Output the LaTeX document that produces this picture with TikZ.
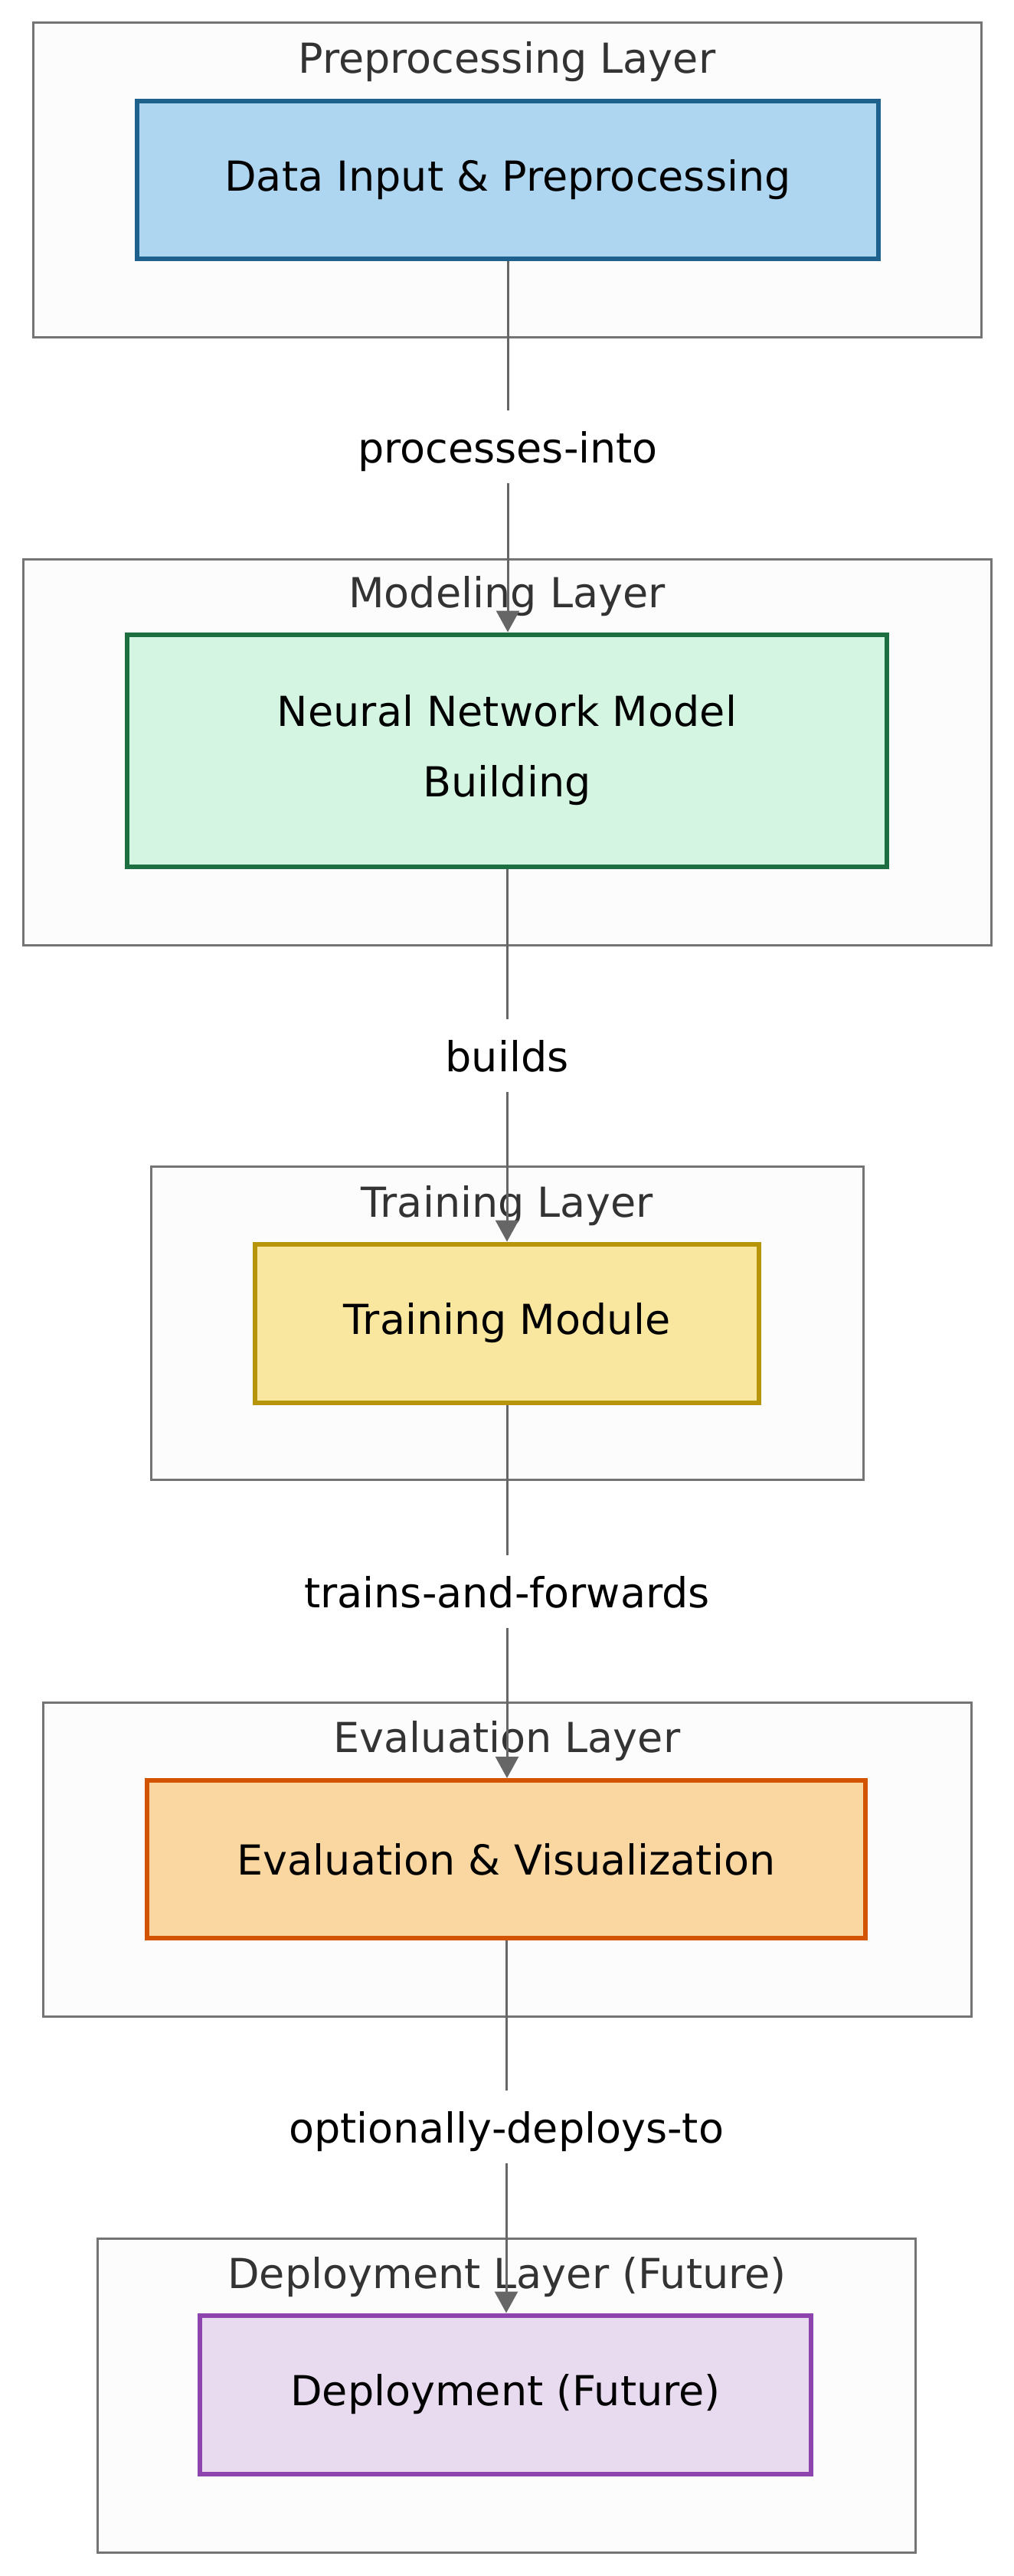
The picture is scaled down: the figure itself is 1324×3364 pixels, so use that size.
\documentclass[tikz,border=0pt]{standalone}
\usepackage{fontspec}
\setmainfont{DejaVu Sans}
\usetikzlibrary{arrows.meta}

\definecolor{layerfill}{HTML}{FCFCFC}
\definecolor{layerline}{HTML}{747474}
\definecolor{layertext}{HTML}{333333}
\definecolor{flowline}{HTML}{666666}
\definecolor{prepfill}{HTML}{AED6F1}  \definecolor{prepline}{HTML}{1F618D}
\definecolor{modfill}{HTML}{D5F5E3}   \definecolor{modline}{HTML}{1D6F42}
\definecolor{trainfill}{HTML}{F9E79F} \definecolor{trainline}{HTML}{B7950B}
\definecolor{evalfill}{HTML}{FAD7A0}  \definecolor{evalline}{HTML}{D35400}
\definecolor{depfill}{HTML}{E8DAEF}   \definecolor{depline}{HTML}{8E44AD}

\begin{document}
\begin{tikzpicture}[x=1pt, y=-1pt,
    layerbox/.style={draw=layerline, fill=layerfill, line width=3pt, inner sep=0pt},
    layertitle/.style={text=layertext, font=\fontsize{54}{66}\selectfont, inner sep=0pt},
    stagebox/.style={line width=6pt, inner sep=0pt, align=center, font=\fontsize{54}{92}\selectfont},
    flow/.style={draw=flowline, line width=3pt, -{Triangle[length=28pt, width=30pt]}},
    flowlabel/.style={fill=white, font=\fontsize{54}{66}\selectfont, text height=46pt, text depth=3pt, minimum height=95pt, inner xsep=4pt}
  ]
  \useasboundingbox (0,0) rectangle (1324,3364);
  \fill[white] (0,0) rectangle (1324,3364);

  % Layer frames
  \node[layerbox, minimum width=1238pt, minimum height=410pt] (prepLayer) at (662,235) {};
  \node[layerbox, minimum width=1264pt, minimum height=504pt] (modLayer) at (662,982) {};
  \node[layerbox, minimum width=930pt, minimum height=409pt] (trainLayer) at (662,1728) {};
  \node[layerbox, minimum width=1212pt, minimum height=410pt] (evalLayer) at (662,2428) {};
  \node[layerbox, minimum width=1068pt, minimum height=410pt] (depLayer) at (661,3128) {};

  % Layer titles
  \node[layertitle] (prepTitle) at (662,81) {Preprocessing Layer};
  \node[layertitle] (modTitle) at (662,779) {Modeling Layer};
  \node[layertitle] (trainTitle) at (662,1575) {Training Layer};
  \node[layertitle] (evalTitle) at (662,2274) {Evaluation Layer};
  \node[layertitle] (depTitle) at (662,2974) {Deployment Layer (Future)};

  % Stages
  \node[stagebox, draw=prepline, fill=prepfill, minimum width=968pt, minimum height=206pt] (prep) at (663,235) {Data Input \& Preprocessing};
  \node[stagebox, draw=modline, fill=modfill, minimum width=992pt, minimum height=303pt] (model) at (662,980) {Neural Network Model\\Building};
  \node[stagebox, draw=trainline, fill=trainfill, minimum width=658pt, minimum height=207pt] (train) at (662,1728) {Training Module};
  \node[stagebox, draw=evalline, fill=evalfill, minimum width=938pt, minimum height=206pt] (eval) at (661,2428) {Evaluation \& Visualization};
  \node[stagebox, draw=depline, fill=depfill, minimum width=798pt, minimum height=207pt] (deploy) at (660,3127) {Deployment (Future)};

  % Flow between stages
  \draw[flow] (prep.south) -- node[flowlabel] {processes-into} (prep.south |- model.north);
  \draw[flow] (model.south) -- node[flowlabel] {builds} (model.south |- train.north);
  \draw[flow] (train.south) -- node[flowlabel] {trains-and-forwards} (train.south |- eval.north);
  \draw[flow] (eval.south) -- node[flowlabel] {optionally-deploys-to} (eval.south |- deploy.north);

\end{tikzpicture}
\end{document}
